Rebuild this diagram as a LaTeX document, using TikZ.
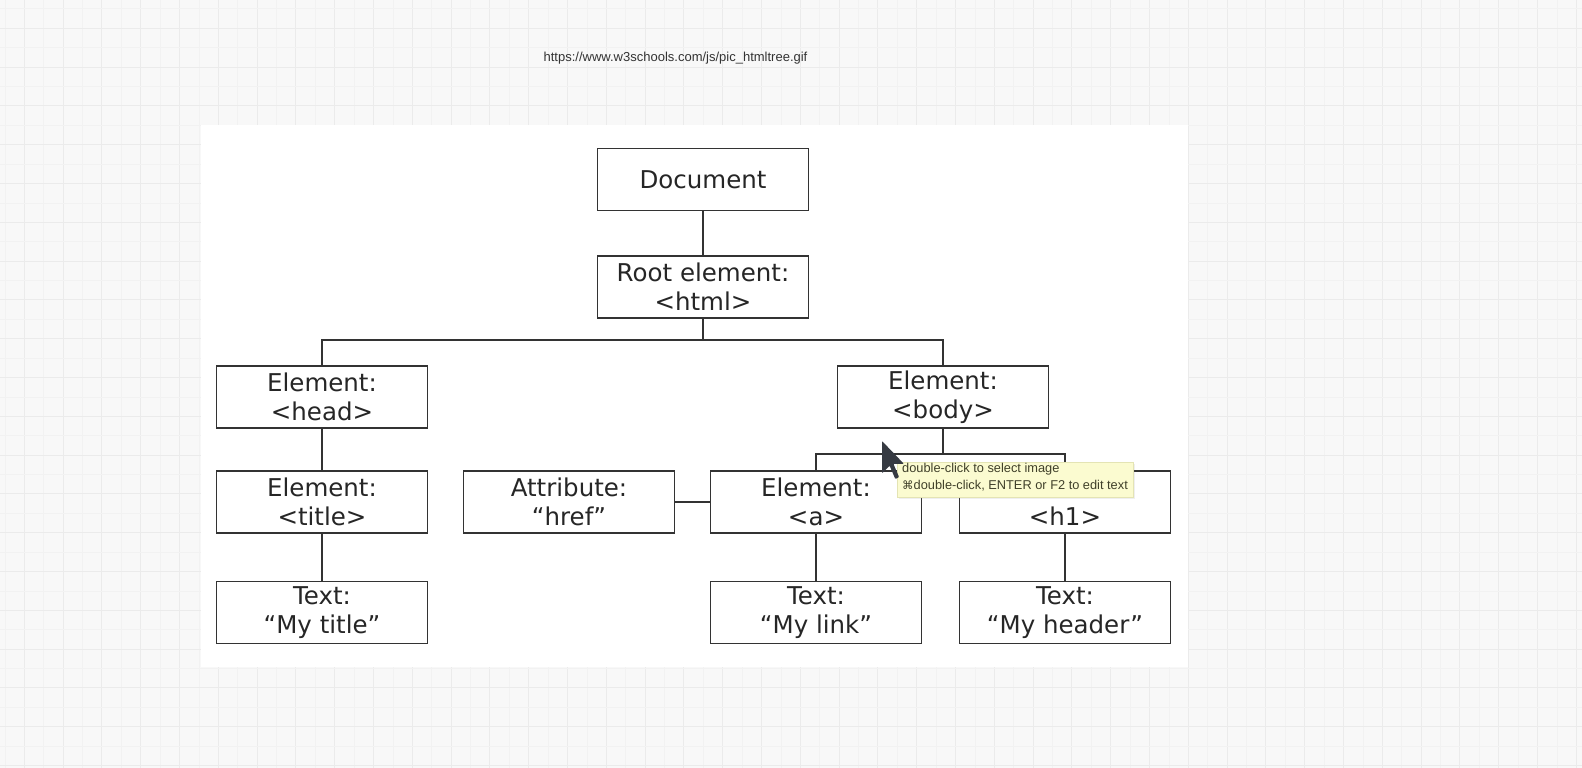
\documentclass[tikz,border=0pt]{standalone}
\usepackage{fontspec}
\setmainfont{DejaVu Sans}
\newfontfamily\libsans{Liberation Sans}
\newfontfamily\djv{DejaVu Sans}
\usetikzlibrary{shadows}
\definecolor{bgc}{HTML}{F8F8F8}
\definecolor{gridmaj}{HTML}{EBEBEB}
\definecolor{gridmin}{HTML}{F2F2F2}
\definecolor{linec}{HTML}{333333}
\definecolor{txtc}{HTML}{262626}
\definecolor{tipfill}{HTML}{FBFBD0}
\definecolor{tipdraw}{HTML}{E4E4B4}
\definecolor{tiptxt}{HTML}{40402A}
\definecolor{cursorc}{HTML}{363A42}
\tikzset{
  treebox/.style={draw=linec, line width=1.9pt, fill=white, minimum width=211pt, minimum height=62pt,
    inner sep=0pt, align=center, text=txtc, font=\fontsize{24.5}{29}\selectfont},
  conn/.style={draw=linec, line width=1.9pt},
  tipbox/.style={draw=tipdraw, line width=0.6pt, fill=tipfill, minimum width=236pt, minimum height=35pt,
    inner sep=0pt, drop shadow={opacity=0.12, shadow xshift=1.5pt, shadow yshift=-2pt}},
  tiptext/.style={anchor=base west, inner sep=0pt, text=tiptxt, font=\libsans\fontsize{12.8}{14}\selectfont},
}
\begin{document}
\begin{tikzpicture}[x=1pt,y=-1pt]
\useasboundingbox (0,0) rectangle (1582,768);
% background and grid
\fill[bgc] (0,0) rectangle (1582,768);
\foreach \i in {0,...,41} {
  \draw[gridmin, line width=0.8pt] ({4.9+\i*38.8},0) -- ({4.9+\i*38.8},768);
  \draw[gridmaj, line width=1pt] ({24.3+\i*38.8},0) -- ({24.3+\i*38.8},768);
}
\foreach \j in {0,...,20} {
  \draw[gridmin, line width=0.8pt] (0,{8.9+\j*38.8}) -- (1582,{8.9+\j*38.8});
  \draw[gridmaj, line width=1pt] (0,{28.3+\j*38.8}) -- (1582,{28.3+\j*38.8});
}
% image panel
\fill[white] (201,125) rectangle (1188,667);
% url label
\node[inner sep=0pt, text=linec, font=\libsans\fontsize{13}{15}\selectfont] (url) at (675.5,58) {https://www.w3schools.com/js/pic\_htmltree.gif};
% tree boxes
\node[treebox] (doc)   at (703,179.5) {Document};
\node[treebox] (root)  at (703,287)   {Root element:\\<html>};
\node[treebox] (head)  at (322,397)     {Element:\\<head>};
\node[treebox] (body)  at (943,397)     {Element:\\<body>};
\node[treebox] (title) at (322,502)     {Element:\\<title>};
\node[treebox] (ttext) at (322,612.5)   {Text:\\“My title”};
\node[treebox] (attr)  at (569,502)     {Attribute:\\“href”};
\node[treebox] (aelem) at (816,502)   {Element:\\<a>};
\node[treebox] (hone)  at (1065,502)    {\phantom{Element:}\\<h1>};
\node[treebox] (ltext) at (816,612.5) {Text:\\“My link”};
\node[treebox] (htext) at (1065,612.5)  {Text:\\“My header”};
% connectors
\draw[conn] (doc.south) -- (root.north);
\draw[conn] (root.south) -- (root.south |- 0,340);
\draw[conn] (head.north) |- (body.north |- 0,340) -- (body.north);
\draw[conn] (head.south) -- (title.north);
\draw[conn] (title.south) -- (ttext.north);
\draw[conn] (body.south) -- (body.south |- 0,454);
\draw[conn] (aelem.north) |- (hone.north |- 0,454) -- (hone.north);
\draw[conn] (attr.east) -- (aelem.west);
\draw[conn] (aelem.south) -- (ltext.north);
\draw[conn] (hone.south) -- (htext.north);
% tooltip
\node[tipbox] (tooltip) at (1015,479.5) {};
\node[tiptext] (tipa) at (902,472.5) {double-click to select image};
\node[tiptext] (tipb) at (902,489) {{\djv\fontsize{11.5}{14}\selectfont ⌘}double-click, ENTER or F2 to edit text};
% mouse cursor
\fill[cursorc, rounded corners=0.8pt] (882,441) -- (882,473.3) -- (889.6,465.7) -- (895.3,479) -- (899.1,477.1) -- (893.4,463.8) -- (903.85,463.8) -- cycle;
\end{tikzpicture}
\end{document}
